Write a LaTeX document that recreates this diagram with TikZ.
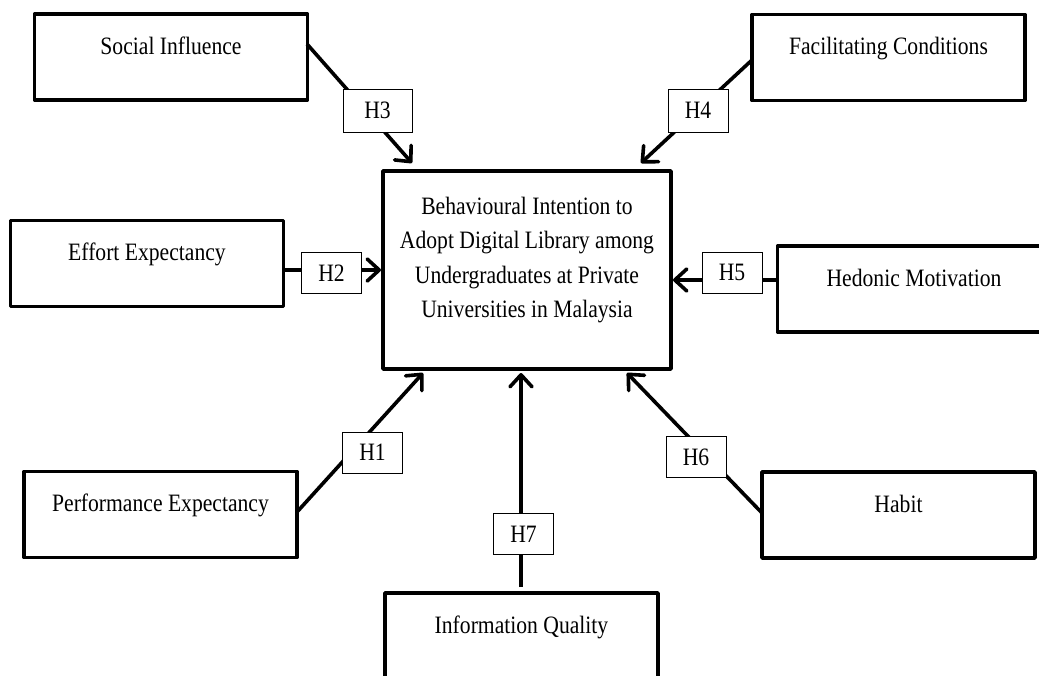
\documentclass[tikz,border=0pt]{standalone}
\usepackage{fontspec}
\setmainfont{Liberation Serif}
\usepackage{graphicx}
\usetikzlibrary{arrows.meta}
\newcommand{\narrowtxt}[1]{\scalebox{0.865}[1]{#1}}
\begin{document}
\begin{tikzpicture}[x=1pt,y=-1pt,
  factor/.style={draw, line width=3.6pt, line join=round, minimum width=273pt, minimum height=86pt,
    inner sep=0pt, text height=40pt, text depth=46pt, font=\fontsize{25}{30}\selectfont},
  hyp/.style={draw, line width=1pt, fill=white, minimum width=60pt, minimum height=41pt,
    inner sep=0pt, font=\fontsize{25}{30}\selectfont},
  link/.style={line width=3.6pt},
  arr/.style={link, -{Straight Barb[length=12pt,width=22pt,round]}}]
\useasboundingbox (0,0) rectangle (1039,675);
\clip (0,0) rectangle (1039,675);

% factor boxes
\node[factor] (SI) at (171,57) {\narrowtxt{Social Influence}};
\node[factor] (FC) at (888.5,57.5) {\narrowtxt{Facilitating Conditions}};
\node[factor] (EE) at (147,263.5) {\narrowtxt{Effort Expectancy}};
\node[factor] (HM) at (914,289) {\narrowtxt{Hedonic Motivation}};
\node[factor] (PE) at (160.5,514.5) {\narrowtxt{Performance Expectancy}};
\node[factor] (HB) at (898.5,515) {\narrowtxt{Habit}};
\node[factor] (IQ) at (521.5,636) {\narrowtxt{Information Quality}};

% main construct
\node[draw, line width=3.6pt, line join=round, minimum width=288pt, minimum height=198pt, inner sep=0pt,
  text height=43pt, text depth=155pt] (BI) at (527,270)
  {\narrowtxt{\fontsize{25}{34.5}\selectfont\begin{tabular}[t]{@{}c@{}}Behavioural Intention to\\
  Adopt Digital Library among\\ Undergraduates at Private\\ Universities in Malaysia\end{tabular}}};

% connector end points
\coordinate (s3) at (307,44);  \coordinate (t3) at (412,163);
\coordinate (s4) at (752,60);  \coordinate (t4) at (641,163);
\coordinate (s2) at (283,270); \coordinate (t2) at (381,270);
\coordinate (s5) at (777,280); \coordinate (t5) at (673,280);
\coordinate (s1) at (297,512); \coordinate (t1) at (423,373);
\coordinate (s6) at (762,513); \coordinate (t6) at (627,373);
\coordinate (s7) at (521,587); \coordinate (t7) at (521,373);

\draw[arr] (s3) -- (t3);
\draw[arr] (s4) -- (t4);
\draw[arr] (s2) -- (t2);
\draw[arr] (s5) -- (t5);
\draw[arr] (s1) -- (t1);
\draw[arr] (s6) -- (t6);
\draw[arr] (s7) -- (t7);

% hypothesis labels
\node[hyp, minimum width=69pt, minimum height=43pt] (H3) at (377.5,110.5) {\narrowtxt{H3}};
\node[hyp, minimum height=43pt] (H4) at (698,110.5) {\narrowtxt{H4}};
\node[hyp] (H2) at (331.5,273) {\narrowtxt{H2}};
\node[hyp] (H5) at (732,272.5) {\narrowtxt{H5}};
\node[hyp] (H1) at (372.5,452.5) {\narrowtxt{H1}};
\node[hyp] (H6) at (696,457) {\narrowtxt{H6}};
\node[hyp] (H7) at (523.5,534) {\narrowtxt{H7}};
\end{tikzpicture}
\end{document}
